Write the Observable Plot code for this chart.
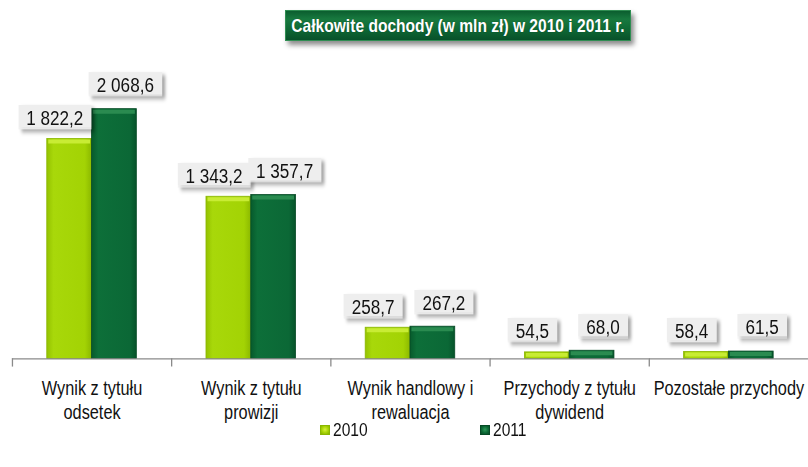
<!DOCTYPE html>
<html><head><meta charset="utf-8">
<script src="https://cdn.jsdelivr.net/npm/d3@7"></script>
<script src="https://cdn.jsdelivr.net/npm/@observablehq/plot@0.6"></script>
<style>
html,body{margin:0;padding:0;background:#fff;overflow:hidden;width:808px;height:467px}
body{font-family:'Liberation Sans',Arial,sans-serif;position:relative}
#head{position:relative;height:50px}
#title{position:absolute;left:285px;top:10px;width:346px;height:31px;color:#fff;font-weight:bold;font-size:19px;
 background:linear-gradient(to bottom,#0b5e2f 0%,#18793f 28%,#0f6a35 60%,#08512a 100%);
 box-shadow:3px 4px 5px rgba(0,0,0,0.45);border:1px solid #2f8d52;box-sizing:border-box;white-space:nowrap}
#title span{position:absolute;left:50%;top:0;line-height:29px;transform:translateX(-50%) scaleX(0.82);text-shadow:0 0 1px rgba(0,0,0,.4)}
#chart svg{display:block;overflow:visible}
#legend{height:45px;position:relative}
.item{position:absolute;top:0;display:flex;align-items:center;font-size:19px;line-height:20px;color:#111}
.item span{display:inline-block;transform:scaleX(0.82);transform-origin:0 50%}
.sw{width:10px;height:10px;margin-right:3px;box-sizing:border-box}
</style></head>
<body>
<div id="head"><div id="title"><span></span></div></div>
<div id="chart"></div>
<div id="legend"></div>
<script>
const titleText = "Całkowite dochody (w mln zł) w 2010 i 2011 r.";
const categories = ["Wynik z tytułu odsetek","Wynik z tytułu prowizji","Wynik handlowy i rewaluacja","Przychody z tytułu dywidend","Pozostałe przychody"];
const tickLabels = ["Wynik z tytułu\nodsetek","Wynik z tytułu\nprowizji","Wynik handlowy i\nrewaluacja","Przychody z tytułu\ndywidend","Pozostałe przychody"];
const years = [2010, 2011];
const values2010 = [1822.2, 1343.2, 258.7, 54.5, 58.4];
const values2011 = [2068.6, 1357.7, 267.2, 68.0, 61.5];
const series = [values2010, values2011];
const barStops = [
  ["#94c200","#a8d80a","#a3d304","#8cb900"],
  ["#075a2c","#0d6f39","#0b6836","#06532a"]
];
const bevelColors = ["#c8ec34","#2a8b50"];
const edgeColors = ["#8ab600","#064a25"];
const legendSwatch = ["radial-gradient(circle at 50% 45%,#d8f040 0%,#a6d404 55%,#84ad00 100%)","radial-gradient(circle at 50% 45%,#2f9a5a 0%,#0c6a36 55%,#064a25 100%)"];
const NARROW = 0.82;

document.querySelector("#title span").textContent = titleText;

const rows = categories.flatMap((c, i) => years.map((yr, k) => ({category: c, year: yr, value: series[k][i]})));
const fmt = d3.formatLocale({decimal: ",", thousands: "\u00a0", grouping: [3], currency: ["", ""]}).format(",.1f");
const labelOf = new Map(categories.map((c, i) => [c, tickLabels[i]]));

const H = 372, MT = 43, MB = 62;
const marks = [];
years.forEach((yr, k) => {
  const sel = d => d.year === yr;
  marks.push(Plot.barY(rows, {filter: sel, fx: "category", x: "year", y: "value", fill: `url(#bar${yr})`, stroke: edgeColors[k], strokeWidth: 0.8}));
  marks.push(Plot.tickY(rows, {filter: sel, fx: "category", x: "year", y: "value", stroke: bevelColors[k], strokeWidth: 4, dy: 2.5, insetLeft: 1.5, insetRight: 1.5}));
});
marks.push(Plot.ruleY([0], {stroke: "#8a8a8a", strokeWidth: 1.3}));
marks.push(Plot.frame({anchor: "left", stroke: "#8a8a8a", strokeWidth: 1.3, insetTop: H - MT - MB, insetBottom: -7}));
years.forEach((yr, k) => {
  marks.push(Plot.text(rows, {filter: d => d.year === yr, fx: "category", x: "year", y: "value", text: d => fmt(d.value),
    dx: k ? 11 : -15, dy: k ? -24 : -21, fontSize: 21, fill: "#111", className: "vl"}));
});
marks.push(Plot.axisFx({anchor: "bottom", tickSize: 0, tickPadding: 19, fontSize: 20, lineHeight: 1.2, fill: "#111", tickFormat: c => labelOf.get(c), label: null}));

const svg = Plot.plot({
  width: 812, height: H, marginTop: MT, marginBottom: MB, marginLeft: 12, marginRight: 0,
  style: {fontFamily: "'Liberation Sans',Arial,sans-serif", fontSize: "20px", color: "#111", background: "transparent"},
  fx: {domain: categories, padding: 0, label: null},
  x: {domain: years, paddingInner: 0, paddingOuter: 0.74, axis: null},
  y: {domain: [0, 2200], axis: null},
  marks
});

const defs = d3.select(svg).insert("defs", ":first-child");
years.forEach((yr, k) => {
  const g = defs.append("linearGradient").attr("id", `bar${yr}`).attr("x1", 0).attr("x2", 1).attr("y1", 0).attr("y2", 0);
  [0, 0.15, 0.85, 1].forEach((o, j) => g.append("stop").attr("offset", o).attr("stop-color", barStops[k][j]));
});
// label box: constant-padding rectangle behind each value label, with a soft drop shadow
const f = defs.append("filter").attr("id", "lblbox").attr("x", -0.6).attr("y", -0.8).attr("width", 2.2).attr("height", 2.6)
  .attr("color-interpolation-filters", "sRGB");
f.append("feMorphology").attr("in", "SourceAlpha").attr("operator", "dilate").attr("radius", "11 30").attr("result", "cols");
f.append("feMorphology").attr("in", "SourceAlpha").attr("operator", "dilate").attr("radius", "90 4").attr("result", "rows0");
f.append("feOffset").attr("in", "rows0").attr("dx", 0).attr("dy", -2).attr("result", "rows");
f.append("feComposite").attr("in", "cols").attr("in2", "rows").attr("operator", "in").attr("result", "box");
f.append("feOffset").attr("in", "box").attr("dx", 3.6).attr("dy", 3).attr("result", "off");
f.append("feGaussianBlur").attr("in", "off").attr("stdDeviation", "2.2 2").attr("result", "blur");
f.append("feFlood").attr("flood-color", "#000").attr("flood-opacity", 0.35).attr("result", "sc");
f.append("feComposite").attr("in", "sc").attr("in2", "blur").attr("operator", "in").attr("result", "shadow");
f.append("feFlood").attr("flood-color", "#eeeeee").attr("result", "fc");
f.append("feComposite").attr("in", "fc").attr("in2", "box").attr("operator", "in").attr("result", "fill");
const m = f.append("feMerge");
["shadow", "fill", "SourceGraphic"].forEach(n => m.append("feMergeNode").attr("in", n));
d3.select(svg).selectAll("g.vl text").attr("filter", "url(#lblbox)");

// narrow the lettering (Arial Narrow look) around each text's anchor
d3.select(svg).selectAll("text").each(function() {
  const t = this.getAttribute("transform") || "";
  const x = +this.getAttribute("x") || 0;
  this.setAttribute("transform", `${t} translate(${x},0) scale(${NARROW},1) translate(${-x},0)`);
});

document.getElementById("chart").append(svg);

const legendLeft = [320, 480];
const lg = d3.select("#legend");
years.forEach((yr, k) => {
  const it = lg.append("div").attr("class", "item").style("left", legendLeft[k] + "px");
  it.append("div").attr("class", "sw").style("background", legendSwatch[k]).style("border", `1px solid ${edgeColors[k]}`);
  it.append("span").text(yr);
});
</script>
</body></html>
